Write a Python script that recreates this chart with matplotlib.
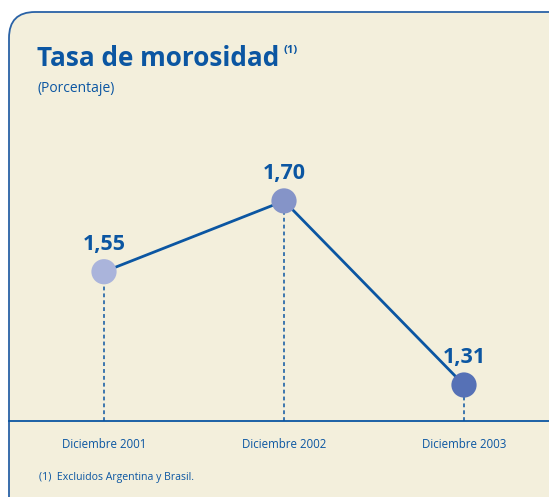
import matplotlib
matplotlib.use("Agg")
from matplotlib import pyplot as plt
from matplotlib.patches import FancyBboxPatch

# data
categories = ["Diciembre 2001", "Diciembre 2002", "Diciembre 2003"]
values = [1.55, 1.70, 1.31]
labels = ["1,55", "1,70", "1,31"]
dot_colors = ["#aab4db", "#8594c8", "#5671b6"]

blue = "#0b56a2"
bg = "#f3efdc"

W, H = 549, 497
fig = plt.figure(figsize=(W / 100, H / 100), dpi=100)

# background / frame axes in pixel coordinates
bgax = fig.add_axes([0, 0, 1, 1])
bgax.set_xlim(0, W)
bgax.set_ylim(H, 0)
bgax.axis("off")
panel = FancyBboxPatch((9, 12), 620, 520, boxstyle="round,pad=0,rounding_size=26",
                       facecolor=bg, edgecolor="#2a62a6", linewidth=1.3)
bgax.add_patch(panel)
bgax.plot([9, W], [421, 421], color=blue, lw=1.3)

bgax.text(37, 66, "Tasa de morosidad", fontsize=18.8, fontweight="bold",
          color=blue, family="Open Sans", va="baseline")
bgax.text(283, 53, "(1)", fontsize=8, fontweight="bold", color=blue,
          family="Open Sans", va="baseline")
bgax.text(37, 92, "(Porcentaje)", fontsize=10, color=blue,
          family="Open Sans", va="baseline")
bgax.text(39, 480, "(1)  Excluidos Argentina y Brasil.", fontsize=7.6, color=blue,
          family="Open Sans", va="baseline")

# data axes
ax = fig.add_axes([0, 0, 1, 1], facecolor="none")
x = list(range(len(values)))
px_per_x = 180.0
px_per_y = 472.0
ax.set_xlim(-104 / px_per_x, (W - 104) / px_per_x)
ax.set_ylim(1.31 - (H - 385) / px_per_y, 1.31 + 385 / px_per_y)
ax.axis("off")
base = 1.31 - (421 - 385) / px_per_y

for xi, v in zip(x, values):
    ax.plot([xi, xi], [base, v], color=blue, lw=1.1, ls=(0, (2.5, 2)))
ax.plot(x, values, color=blue, lw=2, zorder=3)
ax.scatter(x, values, s=330, c=dot_colors, zorder=4, linewidths=0)
for xi, v, lab in zip(x, values, labels):
    ax.text(xi, v + 0.046, lab, ha="center", va="baseline", fontsize=15.5,
            fontweight="bold", color=blue, family="Open Sans")
    ax.text(xi, base - 0.057, categories[xi], ha="center", va="baseline",
            fontsize=8.3, color=blue, family="Open Sans")

fig.savefig("out.png", dpi=100, facecolor="white")
